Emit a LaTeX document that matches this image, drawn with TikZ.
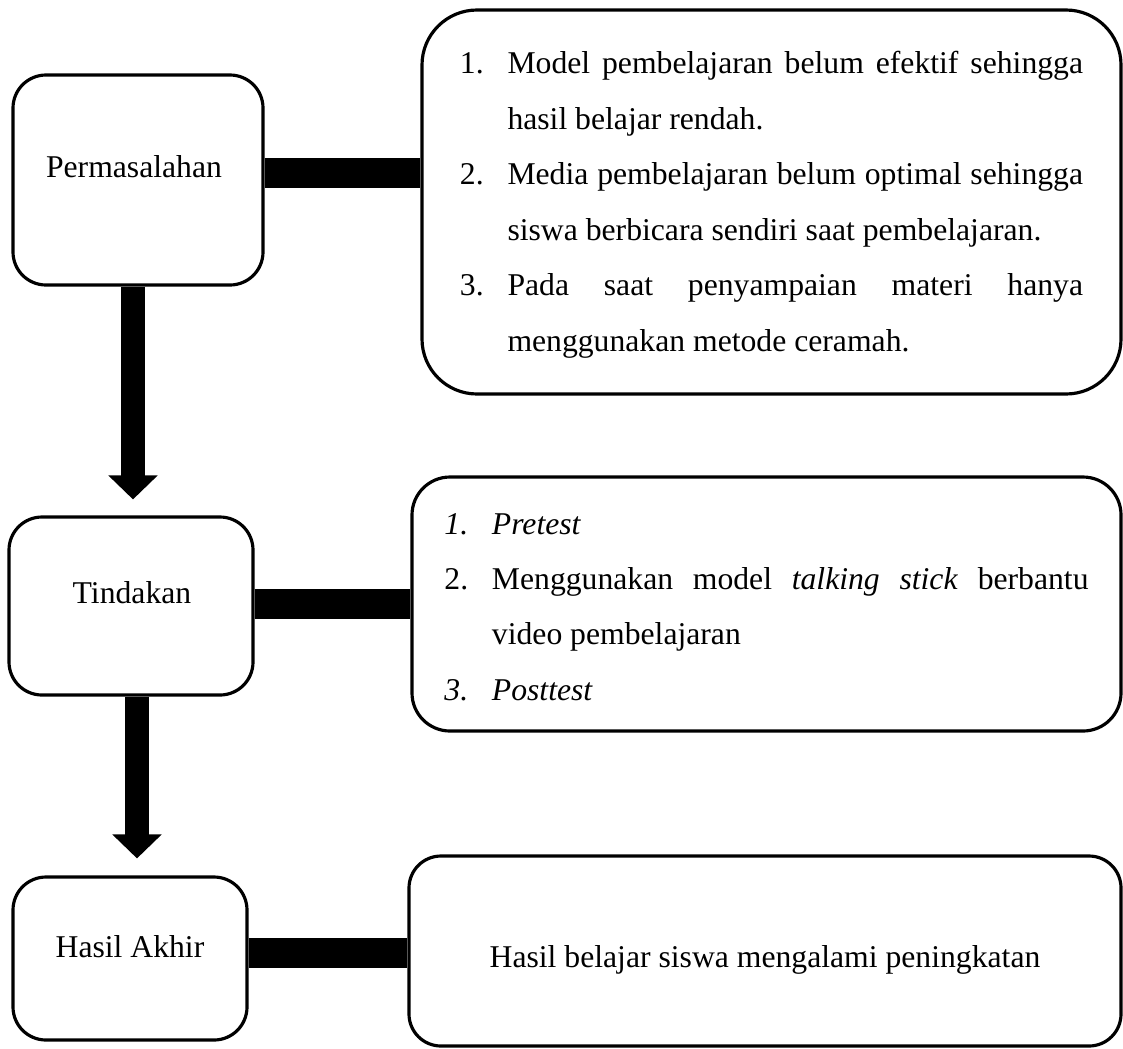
\documentclass[tikz,border=0pt]{standalone}
\usepackage{fontspec}
\setmainfont{Liberation Serif}
\usetikzlibrary{calc,arrows.meta}
\newdimen\pxu \pxu=0.3788pt
\tikzset{
	tahap/.style={draw, line width=1.2pt, rounded corners=33\pxu, inner sep=0pt},
	ket/.style={draw, line width=1.2pt, inner sep=0pt},
	batang/.style={line width=30\pxu},
	panah/.style={line width=24\pxu, -{Triangle[width=18.2pt,length=9.1pt]}}
}
\newcommand\butir[2]{\par\hangindent=18pt\hangafter=1\noindent\makebox[18pt][l]{#1}#2\par}

\begin{document}
\begin{tikzpicture}[x=0.3788pt, y=-0.3788pt, font=\fontsize{12}{21}\selectfont]
		%%%%% START %%%%%
		\useasboundingbox (0,0) rectangle (1123,1048);
		
		\node[tahap, minimum width=250\pxu, minimum height=210\pxu, label={[xshift=-4\pxu, yshift=13\pxu]center:Permasalahan}] (masalah) at (138,180) {};
		\node[tahap, minimum width=244\pxu, minimum height=178\pxu, label={[xshift=1\pxu, yshift=13\pxu]center:Tindakan}] (tindakan) at (131,606) {};
		\node[tahap, minimum width=234\pxu, minimum height=163\pxu, label={[yshift=12\pxu]center:Hasil Akhir}] (hasil) at (130,958.5) {};
		
		\node[ket, rounded corners=55\pxu, minimum width=699\pxu, minimum height=384\pxu, text width=236pt, text depth=139pt, align=justify] (masalahket) at (771.5,202) {%
			\butir{1.}{Model pembelajaran belum efektif sehingga\linebreak hasil belajar rendah.}
			\butir{2.}{Media pembelajaran belum optimal sehingga\linebreak siswa berbicara sendiri saat pembelajaran.}
			\butir{3.}{Pada saat penyampaian materi hanya\linebreak menggunakan metode ceramah.}};
		\node[ket, rounded corners=38\pxu, minimum width=709\pxu, minimum height=254\pxu, text width=244pt, text depth=95pt, align=justify] (tindakanket) at (766.5,604) {%
			\butir{\textit{1.}}{\textit{Pretest}}
			\butir{2.}{Menggunakan model \textit{talking stick} berbantu\linebreak video pembelajaran}
			\butir{\textit{3.}}{\textit{Posttest}}};
		\node[ket, rounded corners=32\pxu, minimum width=712\pxu, minimum height=190\pxu, text height=15pt, text depth=2.6pt] (hasilket) at (765,951) {Hasil belajar siswa mengalami peningkatan};
		
		\draw[batang] ($(masalah.east)+(0,-7)$) -- ($(masalahket.west |- masalah.east)+(0,-7)$);
		\draw[batang] ($(tindakan.east)+(0,-2.5)$) -- ($(tindakanket.west |- tindakan.east)+(0,-2.5)$);
		\draw[batang] ($(hasil.east)+(0,-6)$) -- ($(hasilket.west |- hasil.east)+(0,-6)$);
		
		\draw[panah] ($(masalah.south)+(-5,0)$) -- ($(masalah.south |- tindakan.north)+(-5,-16)$);
		\draw[panah] ($(tindakan.south)+(6,0)$) -- ($(tindakan.south |- hasil.north)+(6,-17)$);
		%%%%% END %%%%%
	\end{tikzpicture}
\end{document}
